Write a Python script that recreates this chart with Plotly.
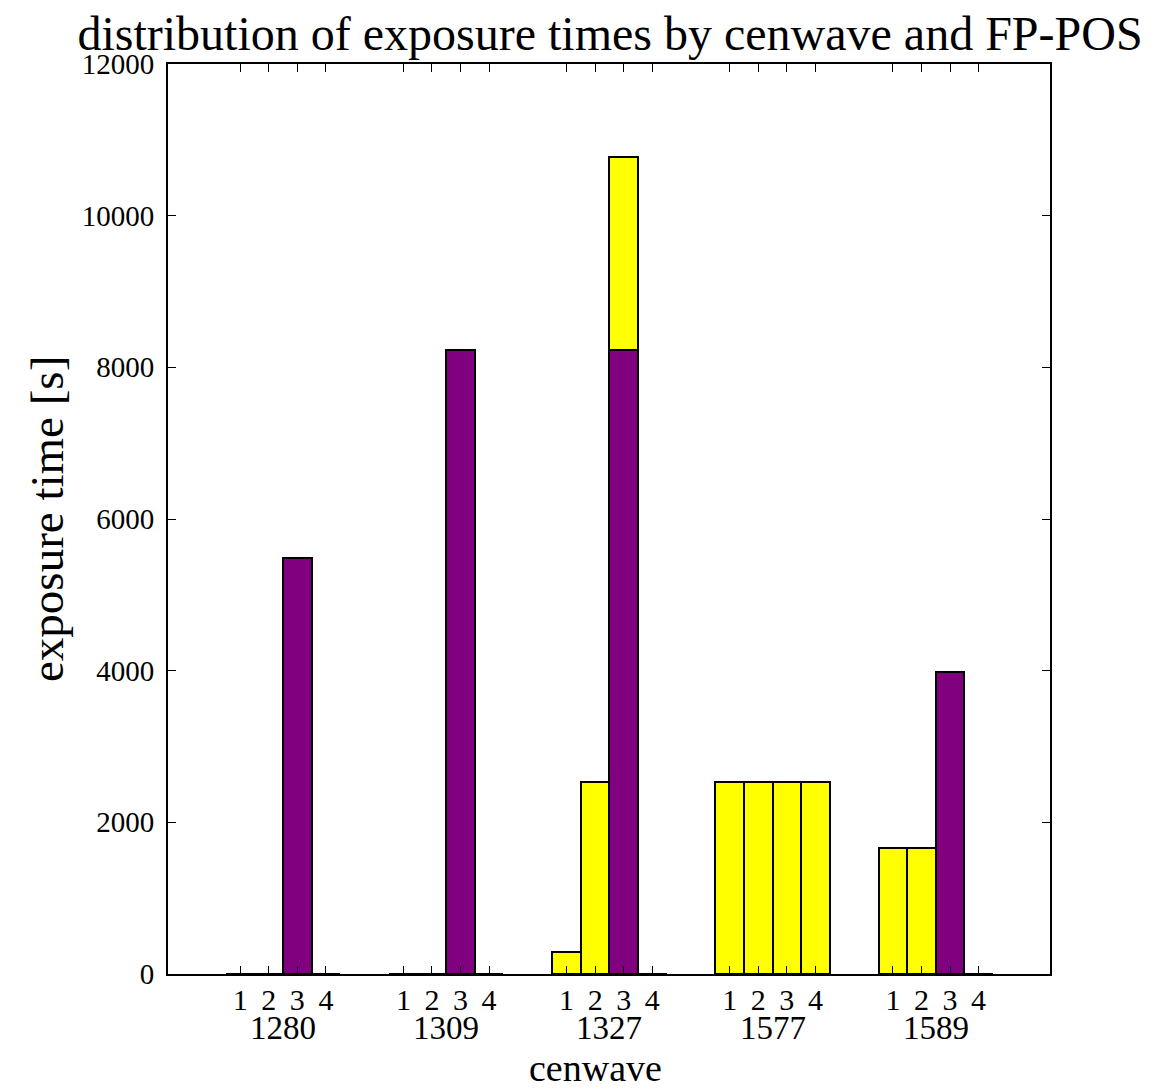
import plotly.graph_objects as go

# Exposure time per cenwave, split by FP-POS (1..4)
cenwaves = ["1280", "1309", "1327", "1577", "1589"]
fp_pos = [1, 2, 3, 4]
fp_labels = ["1", "2", "3", "4"]

# lower (purple) and upper (yellow) stacked components, one row per cenwave
exptime_purple = [
    [0, 0, 5480, 0],
    [0, 0, 8230, 0],
    [0, 0, 8230, 0],
    [0, 0, 0, 0],
    [0, 0, 3980, 0],
]
exptime_yellow = [
    [0, 0, 0, 0],
    [0, 0, 0, 0],
    [290, 2535, 2545, 0],
    [2535, 2535, 2535, 2535],
    [1660, 1660, 0, 0],
]

y_ticks = [0, 2000, 4000, 6000, 8000, 10000, 12000]

BAR_W = 0.175
FONT = "Liberation Serif"

xs, ya, yb = [], [], []
for gi, cw in enumerate(cenwaves):
    for pi, p in enumerate(fp_pos):
        xs.append(gi + (p - 2.5) * BAR_W)
        ya.append(exptime_purple[gi][pi])
        yb.append(exptime_yellow[gi][pi])

fig = go.Figure()
fig.add_trace(go.Bar(
    x=xs, y=ya, width=BAR_W,
    marker=dict(color="#800080", line=dict(color="black", width=2)),
    showlegend=False,
))
fig.add_trace(go.Bar(
    x=xs, y=yb, width=BAR_W,
    marker=dict(color="#ffff00", line=dict(color="black", width=2)),
    showlegend=False,
))

# cenwave group labels under the FP-POS tick labels
for gi, cw in enumerate(cenwaves):
    fig.add_annotation(
        x=gi, y=0, xref="x", yref="paper", text=cw, showarrow=False,
        yanchor="middle", yshift=-54, font=dict(family=FONT, size=33, color="black"),
    )

# axis titles
fig.add_annotation(
    x=0.5, y=0, xref="paper", yref="paper", text="cenwave", showarrow=False,
    yanchor="bottom", xshift=-14, yshift=-117, font=dict(family=FONT, size=38, color="black"),
)
fig.add_annotation(
    x=0, y=0.5, xref="paper", yref="paper", text="exposure time [s]", showarrow=False,
    textangle=-90, xanchor="center", xshift=-121, font=dict(family=FONT, size=47, color="black"),
)

fig.update_layout(
    barmode="stack",
    width=1152, height=1090,
    margin=dict(l=168, r=102, t=64, b=116),
    paper_bgcolor="white", plot_bgcolor="white",
    font=dict(family=FONT, color="black"),
    title=dict(
        text="distribution of exposure times by cenwave and FP-POS",
        x=0.5 + 34 / 1152, xanchor="center", y=1 - 33 / 1090, yanchor="middle",
        font=dict(family=FONT, size=48, color="black"),
    ),
    xaxis=dict(
        range=[-0.705, 4.70],
        tickvals=xs, ticktext=fp_labels * len(cenwaves),
        ticks="inside", ticklen=8, tickwidth=1, tickcolor="black",
        showline=True, linecolor="black", linewidth=2, mirror="ticks",
        showgrid=False, zeroline=False, automargin=False,
        ticklabelstandoff=-2,
        tickfont=dict(family=FONT, size=30, color="black"),
    ),
    yaxis=dict(
        range=[0, 12000],
        tickvals=y_ticks, ticktext=[str(v) for v in y_ticks],
        ticks="inside", ticklen=8, tickwidth=1, tickcolor="black",
        showline=True, linecolor="black", linewidth=2, mirror="ticks",
        showgrid=False, zeroline=False, automargin=False,
        ticklabelstandoff=6,
        tickfont=dict(family=FONT, size=29, color="black"),
    ),
)

fig.write_html("out.html")
